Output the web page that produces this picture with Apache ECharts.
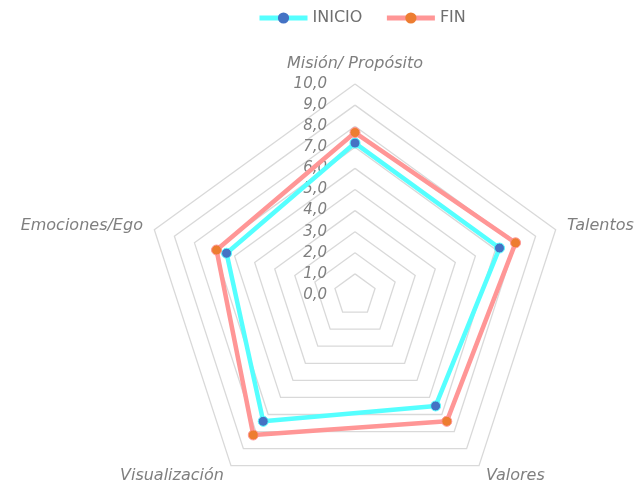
<!DOCTYPE html>
<html>
<head>
<meta charset="utf-8">
<script src="https://cdn.jsdelivr.net/npm/echarts@6/dist/echarts.min.js"></script>
<style>
  html, body { margin: 0; padding: 0; background: #fff; }
  #chart { width: 638px; height: 481px; }
</style>
</head>
<body>
<div id="chart"></div>
<script>
// ejes del radar (en sentido horario desde arriba)
var categorias = ['Misión/ Propósito', 'Talentos', 'Valores', 'Visualización', 'Emociones/Ego'];
var inicio = [7.2, 7.2, 6.5, 7.4, 6.4];
var fin = [7.7, 8.0, 7.4, 8.2, 6.9];
var ticks = ['0,0', '1,0', '2,0', '3,0', '4,0', '5,0', '6,0', '7,0', '8,0', '9,0', '10,0'];

var fuente = 'DejaVu Sans';
var gris = '#7f7f7f';
var cian = '#55ffff', azul = '#4472c4';
var rosa = '#ff9696', naranja = '#ed7d31';

// echarts dibuja el radar antihorario: invertir todo menos el primero
function horario(a) { return [a[0]].concat(a.slice(1).reverse()); }

var chart = echarts.init(document.getElementById('chart'));

var option = {
    backgroundColor: '#fff',
    animation: false,
    legend: {
        top: 5,
        left: 252,
        itemWidth: 48,
        itemHeight: 14,
        itemGap: 22,
        textStyle: { color: '#6f6f6f', fontFamily: fuente, fontSize: 16 },
        data: [
            { name: 'INICIO', lineStyle: { width: 5 } },
            { name: 'FIN', lineStyle: { width: 5 } }
        ]
    },
    // eje vertical con las etiquetas 0,0 ... 10,0
    grid: { left: 355, top: 84, width: 1, height: 211 },
    xAxis: { type: 'value', show: false },
    yAxis: {
        type: 'value',
        min: 0,
        max: 10,
        interval: 1,
        axisLine: { show: false },
        axisTick: { show: false },
        splitLine: { show: false },
        axisLabel: {
            margin: 28,
            color: gris,
            fontFamily: fuente,
            fontStyle: 'italic',
            fontSize: 15,
            formatter: function (v) { return ticks[Math.round(v)]; }
        }
    },
    radar: {
        center: [355, 295],
        radius: 211,
        startAngle: 90,
        splitNumber: 10,
        shape: 'polygon',
        indicator: horario(categorias).map(function (c) { return { name: c, min: 0, max: 10 }; }),
        axisName: { color: gris, fontFamily: fuente, fontStyle: 'italic', fontSize: 16 },
        nameGap: 12,
        axisLine: { show: false },
        axisTick: { show: false },
        axisLabel: { show: false },
        splitArea: { show: false },
        splitLine: { lineStyle: { color: '#d9d9d9', width: 1.3 } }
    },
    series: [
        // series vacías solo para el icono de la leyenda
        { name: 'INICIO', type: 'line', data: [], symbol: 'circle', symbolSize: 12,
          lineStyle: { color: cian, width: 5 }, itemStyle: { color: azul } },
        { name: 'FIN', type: 'line', data: [], symbol: 'circle', symbolSize: 12,
          lineStyle: { color: rosa, width: 5 }, itemStyle: { color: naranja } },
        {
            type: 'radar',
            symbol: 'circle',
            symbolSize: 10,
            data: [{
                name: 'INICIO',
                value: horario(inicio),
                lineStyle: { color: cian, width: 4.5 },
                itemStyle: { color: azul, borderColor: cian, borderWidth: 1 }
            }, {
                name: 'FIN',
                value: horario(fin),
                lineStyle: { color: rosa, width: 4.5 },
                itemStyle: { color: naranja, borderColor: rosa, borderWidth: 1 }
            }]
        }
    ]
};

chart.setOption(option);
</script>
</body>
</html>
